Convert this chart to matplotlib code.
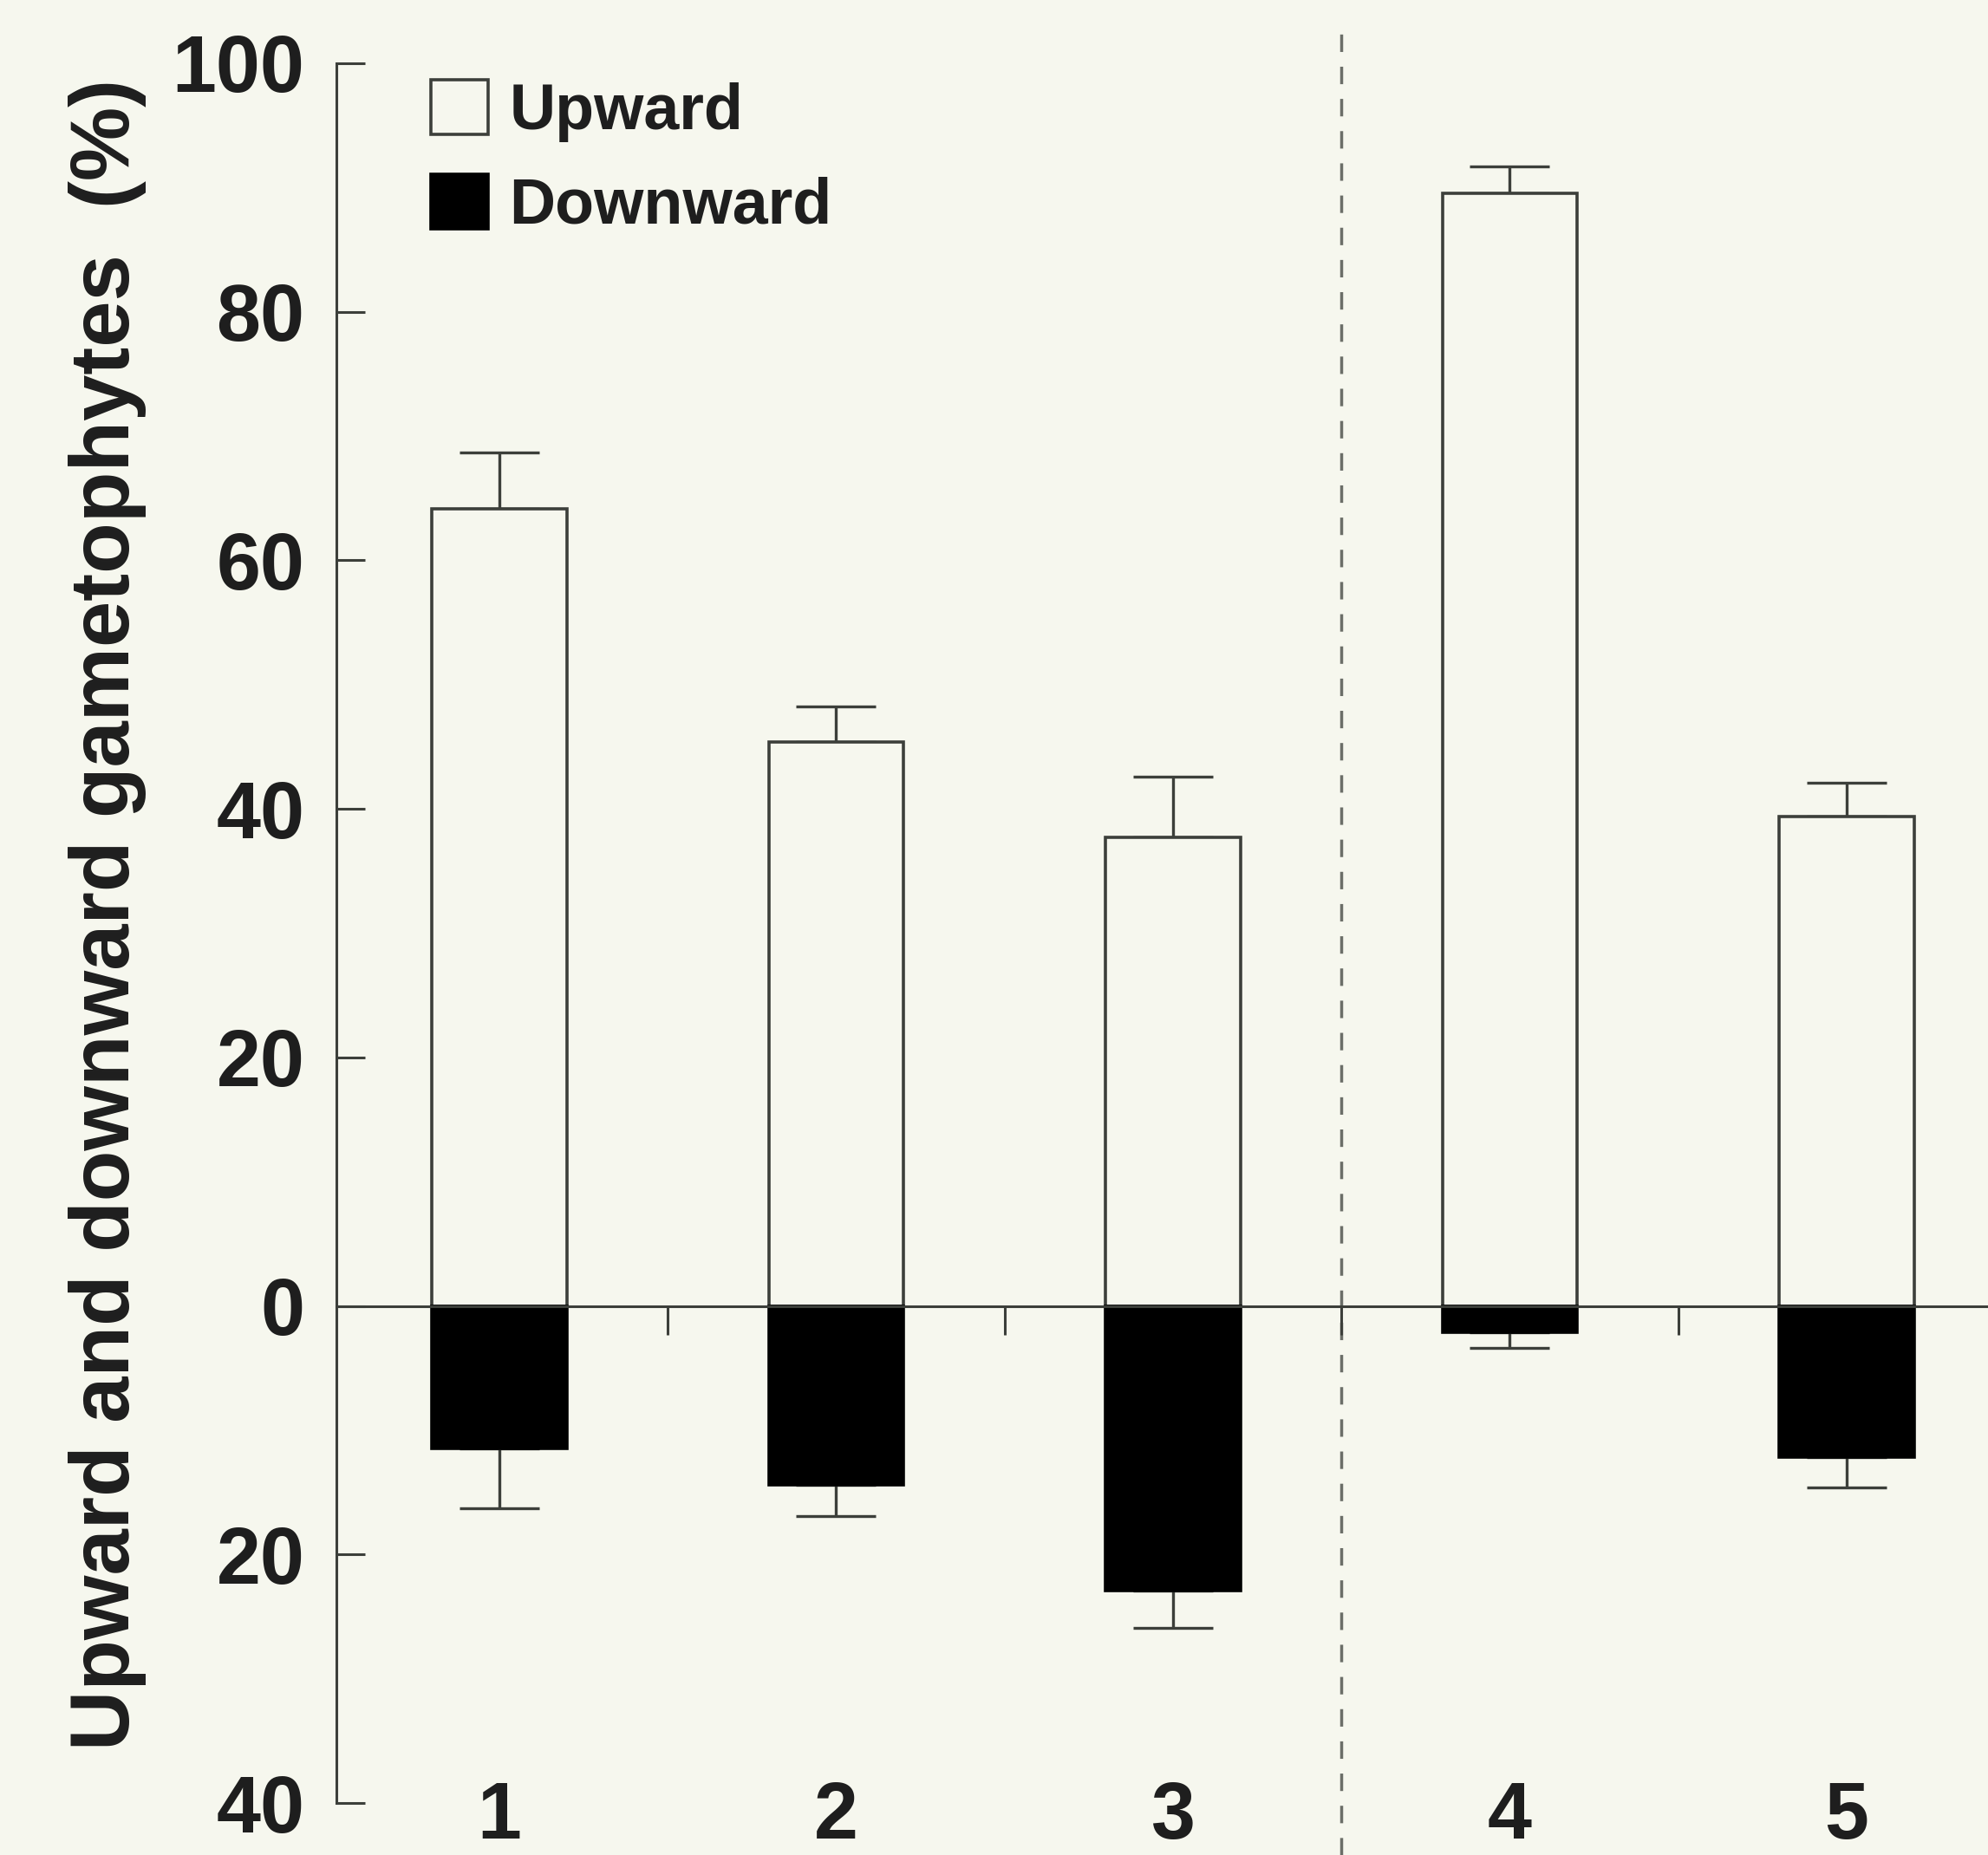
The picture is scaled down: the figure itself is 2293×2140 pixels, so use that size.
import numpy as np
import matplotlib.pyplot as plt

plt.rcParams['font.family'] = ['Liberation Sans', 'DejaVu Sans']
plt.rcParams['font.weight'] = 'bold'

# data (percent of gametophytes)
groups = ['1', '2', '3', '4', '5']
upward = [64.1, 45.4, 37.7, 89.5, 39.4]
upward_err = [4.6, 2.8, 4.9, 2.2, 2.7]
downward = [11.5, 14.4, 22.9, 2.1, 12.2]
downward_err = [4.8, 2.5, 3.0, 1.3, 2.4]
yticks = [-40, -20, 0, 20, 40, 60, 80, 100]
ytick_labels = ['40', '20', '0', '20', '40', '60', '80', '100']
divider_after = 3  # dashed separator between group 3 and 4

BG = '#f6f7ee'
INK = '#1e1e1e'
EDGE = '#3c3f3a'

fig = plt.figure(figsize=(22.93, 21.40), dpi=100, facecolor=BG)
ax = fig.add_axes([0.169, 0.028, 0.831, 0.938], facecolor=BG)

x = np.arange(1, len(groups) + 1)
width = 0.40
zeros = np.zeros(len(groups))
down = -np.array(downward)

ax.bar(x, upward, width, color=BG, edgecolor=EDGE, linewidth=2.6,
       label='Upward', zorder=3)
ax.bar(x, down, width, color='black', edgecolor='black', linewidth=2.6,
       label='Downward', zorder=3)

ax.errorbar(x, upward, yerr=[zeros, upward_err], fmt='none', ecolor=EDGE,
            elinewidth=2.4, capsize=33, capthick=2.4, zorder=2)
ax.errorbar(x, down, yerr=[downward_err, zeros], fmt='none', ecolor=EDGE,
            elinewidth=2.4, capsize=33, capthick=2.4, zorder=2)

# dashed separator
ax.axvline(divider_after + 0.5, ymin=-0.03, ymax=1.018, clip_on=False,
           color='#6b6e68', linewidth=2.5, linestyle=(0, (5.8, 4.9)), zorder=1)

ax.set_xlim(0.515, 5.42)
ax.set_ylim(-40, 100)

# axes styling
for side in ['top', 'right']:
    ax.spines[side].set_visible(False)
ax.spines['left'].set_color(EDGE)
ax.spines['left'].set_linewidth(2.2)
ax.spines['bottom'].set_position(('data', 0))
ax.spines['bottom'].set_color(EDGE)
ax.spines['bottom'].set_linewidth(2.2)
ax.spines['bottom'].set_zorder(4)

ax.set_yticks(yticks)
ax.set_yticklabels(ytick_labels)
ax.tick_params(axis='y', direction='in', length=24, width=2.2, color=EDGE,
               pad=26, labelsize=66, labelcolor=INK)
ax.set_xticks((x[:-1] + x[1:]) / 2)
ax.set_xticklabels([])
ax.tick_params(axis='x', direction='out', length=24, width=2.2, color=EDGE)

for xi, g in zip(x, groups):
    ax.text(xi, -41.2, g, ha='center', va='center', fontsize=66,
            fontweight='bold', color=INK, clip_on=False)

fig.text(0.054, 0.507, 'Upward and downward gametophytes  (%)', rotation=90,
         ha='center', va='center', fontsize=69, fontweight='bold', color=INK)

leg = ax.legend(loc='upper left', bbox_to_anchor=(497 / 2293, 1 - 92 / 2140),
                bbox_transform=fig.transFigure, frameon=False, fontsize=53,
                handlelength=0.9, handleheight=0.95, handletextpad=0.33,
                labelspacing=0.5, borderpad=0, borderaxespad=0)
for t in leg.get_texts():
    t.set_color(INK)

fig.savefig('out.png', dpi=100, facecolor=BG)
